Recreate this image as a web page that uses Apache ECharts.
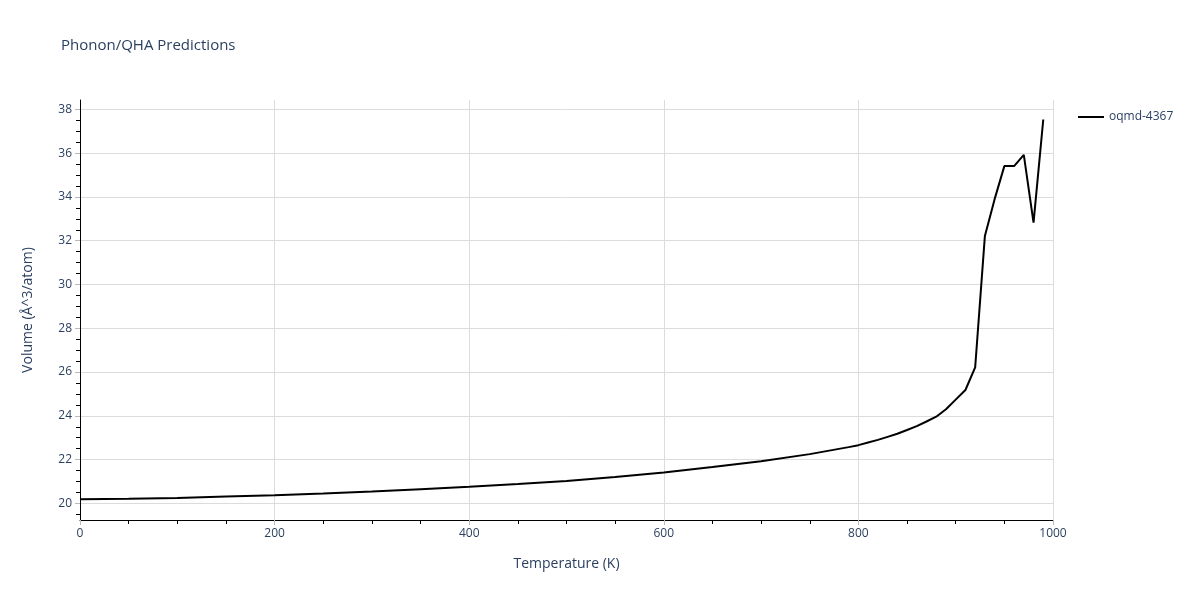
<!DOCTYPE html>
<html>
<head>
<meta charset="utf-8">
<script src="https://cdn.jsdelivr.net/npm/echarts@6/dist/echarts.min.js"></script>
<style>html,body{margin:0;padding:0;background:#fff;}#c{width:1200px;height:600px;}</style>
</head>
<body>
<div id="c"></div>
<script>
const seriesName = 'oqmd-4367';
const temperatures = [0,50,100,150,200,250,300,350,400,450,500,550,600,650,700,750,
  760,770,780,790,800,810,820,830,840,850,860,870,880,890,900,910,920,930,940,950,960,970,980,990];
const volumes = [20.19,20.21,20.24,20.31,20.37,20.45,20.54,20.65,20.76,20.88,21.02,21.20,21.41,21.66,21.92,22.25,
  22.33,22.41,22.49,22.57,22.66,22.78,22.90,23.04,23.18,23.35,23.53,23.74,23.96,24.30,24.74,25.18,26.21,32.22,33.90,35.41,35.41,35.92,32.83,37.54];
const xTicks = [0,200,400,600,800,1000];
const yMajor = [20,22,24,26,28,30,32,34,36,38];
const yMinor = [19.5,20.5,21,21.5,22.5,23,23.5,24.5,25,25.5,26.5,27,27.5,28.5,29,29.5,30.5,31,31.5,32.5,33,33.5,34.5,35,35.5,36.5,37,37.5];

const fontFam = '"Open Sans", Verdana, Arial, sans-serif';
const txt = '#2a3f5f';
const yMin = 19.24, yMax = 38.43;

const chart = echarts.init(document.getElementById('c'));
chart.setOption({
  animation: false,
  backgroundColor: '#fff',
  textStyle: {fontFamily: fontFam},
  title: {text: 'Phonon/QHA Predictions', left: 56, top: 33,
    textStyle: {fontFamily: fontFam, fontSize: 15, fontWeight: 'normal', color: txt}},
  legend: {left: 1073, top: 106, icon: 'path://M0,0 L26,0 L26,2 L0,2 Z', itemWidth: 26, itemHeight: 2, itemGap: 6,
    textStyle: {fontFamily: fontFam, fontSize: 12, color: txt}, data: [seriesName]},
  grid: {left: 80, right: 147, top: 100, bottom: 80},
  xAxis: {
    type: 'value', min: 0, max: 1000, interval: 200,
    name: 'Temperature (K)', nameLocation: 'middle', nameGap: 37,
    nameTextStyle: {fontFamily: fontFam, fontSize: 14, color: txt},
    axisLine: {show: true, onZero: false, lineStyle: {color: '#000', width: 1}},
    axisTick: {show: true, inside: false, length: 5, lineStyle: {color: '#bbb'}, customValues: xTicks},
    minorTick: {show: true, splitNumber: 4, length: 4, lineStyle: {color: '#000'}},
    axisLabel: {fontFamily: fontFam, fontSize: 12, color: txt, margin: 8, customValues: xTicks,
      formatter: v => String(v)},
    splitLine: {show: true, lineStyle: {color: '#dcdcdc', width: 1}}
  },
  yAxis: [{
    type: 'value', min: yMin, max: yMax,
    name: 'Volume (Å^3/atom)', nameLocation: 'middle', nameGap: 45,
    nameTextStyle: {fontFamily: fontFam, fontSize: 14, color: txt},
    axisLine: {show: true, lineStyle: {color: '#000', width: 1}},
    axisTick: {show: true, inside: false, length: 5, lineStyle: {color: '#bbb'}, customValues: yMajor},
    axisLabel: {fontFamily: fontFam, fontSize: 12, color: txt, margin: 8, customValues: yMajor,
      formatter: v => String(v)},
    splitLine: {show: true, lineStyle: {color: '#dcdcdc', width: 1}}
  }, {
    type: 'value', min: yMin, max: yMax, position: 'left', offset: 0,
    axisLine: {show: false},
    axisTick: {show: true, inside: false, length: 4, lineStyle: {color: '#000'}, customValues: yMinor},
    axisLabel: {show: false},
    splitLine: {show: false}
  }],
  series: [{
    name: seriesName, type: 'line', yAxisIndex: 0,
    data: temperatures.map((t, i) => [t, volumes[i]]),
    showSymbol: false, symbol: 'none',
    lineStyle: {color: '#000', width: 2}, itemStyle: {color: '#000'}
  }]
});
</script>
</body>
</html>
